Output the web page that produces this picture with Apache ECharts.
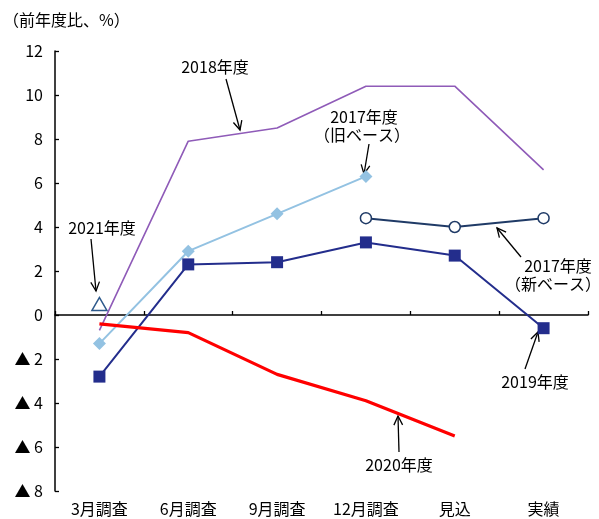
<!DOCTYPE html>
<html><head><meta charset="utf-8">
<script src="https://cdn.jsdelivr.net/npm/echarts@6/dist/echarts.min.js"></script>
<style>html,body{margin:0;padding:0;background:#fff}#c{width:599px;height:519px}</style>
</head><body><div id="c"></div>
<script>
var categories = ['3月調査','6月調査','9月調査','12月調査','見込','実績'];
var fy2018 = [-0.7, 7.9, 8.5, 10.4, 10.4, 6.6];
var fy2017old = [-1.3, 2.9, 4.6, 6.3, null, null];
var fy2017new = [null, null, null, 4.4, 4.0, 4.4];
var fy2019 = [-2.8, 2.3, 2.4, 3.3, 2.7, -0.6];
var fy2020 = [-0.4, -0.8, -2.7, -3.9, -5.5, null];
var fy2021 = [0.5, null, null, null, null, null];
var yTicks = [-8, -6, -4, -2, 0, 2, 4, 6, 8, 10, 12];

var FONT = '"Noto Sans CJK JP", "Noto Sans", sans-serif';
var chart = echarts.init(document.getElementById('c'));

function arrow(x1, y1, x2, y2) {
  var a = Math.atan2(y2 - y1, x2 - x1), L = 10, w = 0.45;
  var p1 = [x2 - L * Math.cos(a - w), y2 - L * Math.sin(a - w)];
  var p2 = [x2 - L * Math.cos(a + w), y2 - L * Math.sin(a + w)];
  return [
    {type:'line', shape:{x1:x1,y1:y1,x2:x2,y2:y2}, style:{stroke:'#000', lineWidth:1.3}},
    {type:'polyline', shape:{points:[p1,[x2,y2],p2]}, style:{stroke:'#000', lineWidth:1.3, fill:null}}
  ];
}
function txt(x, y, s) {
  return {type:'text', x:x, y:y, style:{text:s, font:'16px ' + FONT, fill:'#000', textAlign:'center', textVerticalAlign:'middle'}};
}
var g = [];
g.push({type:'text', x:3, y:20, style:{text:'（前年度比、%）', font:'16px ' + FONT, fill:'#000', textVerticalAlign:'middle'}});
g.push(txt(215, 67, '2018年度')); g = g.concat(arrow(226, 79, 240, 130));
g.push(txt(364, 117, '2017年度')); g.push(txt(362, 135, '（旧ベース）')); g = g.concat(arrow(369, 144, 364, 174));
g.push(txt(102, 228, '2021年度')); g = g.concat(arrow(91, 239, 96, 291));
g.push(txt(558, 266, '2017年度')); g.push(txt(553, 284, '（新ベース）')); g = g.concat(arrow(521, 257, 497, 228));
g.push(txt(535, 382, '2019年度')); g = g.concat(arrow(525, 369, 538, 332));
g.push(txt(399, 465, '2020年度')); g = g.concat(arrow(399, 452, 398, 416));

chart.setOption({
  animation: false,
  backgroundColor: '#fff',
  textStyle: {fontFamily: FONT},
  grid: {left: 55, right: 11, top: 51, bottom: 28},
  xAxis: [{
    type: 'category', data: categories, position: 'bottom',
    axisLine: {show: false, onZero: false}, axisTick: {show: false},
    axisLabel: {color: '#000', fontSize: 16, margin: 10, fontFamily: FONT}
  }, {
    type: 'category', data: categories, position: 'bottom',
    axisLine: {show: true, onZero: true, lineStyle: {color: '#000', width: 1.5}},
    axisTick: {show: true, inside: true, length: 4, lineStyle: {color: '#000', width: 1.3}},
    axisLabel: {show: false}
  }],
  yAxis: {
    type: 'value', min: yTicks[0], max: yTicks[yTicks.length - 1], interval: 2,
    splitLine: {show: false},
    axisLine: {show: true, onZero: false, lineStyle: {color: '#000', width: 1.5}},
    axisTick: {show: true, inside: true, length: 4, lineStyle: {color: '#000', width: 1.3}},
    axisLabel: {color: '#000', fontSize: 16, margin: 12, fontFamily: FONT,
      formatter: function (v) { return v < 0 ? '▲ ' + (-v) : String(v); }}
  },
  series: [
    {name:'2018年度', type:'line', data: fy2018, showSymbol:false, symbol:'none',
      lineStyle:{color:'#8f5bb8', width:1.6}},
    {name:'2017年度（旧ベース）', type:'line', data: fy2017old, symbol:'diamond', symbolSize:13,
      itemStyle:{color:'#93c2e2'}, lineStyle:{color:'#93c2e2', width:2}},
    {name:'2019年度', type:'line', data: fy2019, symbol:'rect', symbolSize:12,
      itemStyle:{color:'#232d8c'}, lineStyle:{color:'#232d8c', width:2}},
    {name:'2017年度（新ベース）', type:'line', data: fy2017new, symbol:'circle', symbolSize:11,
      itemStyle:{color:'#fff', borderColor:'#1f3a66', borderWidth:1.5}, lineStyle:{color:'#1f3a66', width:2}},
    {name:'2020年度', type:'line', data: fy2020, symbol:'none',
      lineStyle:{color:'#ff0000', width:3.2}},
    {name:'2021年度', type:'line', data: fy2021, symbol:'triangle', symbolSize:[15,13],
      itemStyle:{color:'#fff', borderColor:'#2e5a8c', borderWidth:1.5}}
  ],
  graphic: g
});
</script></body></html>
